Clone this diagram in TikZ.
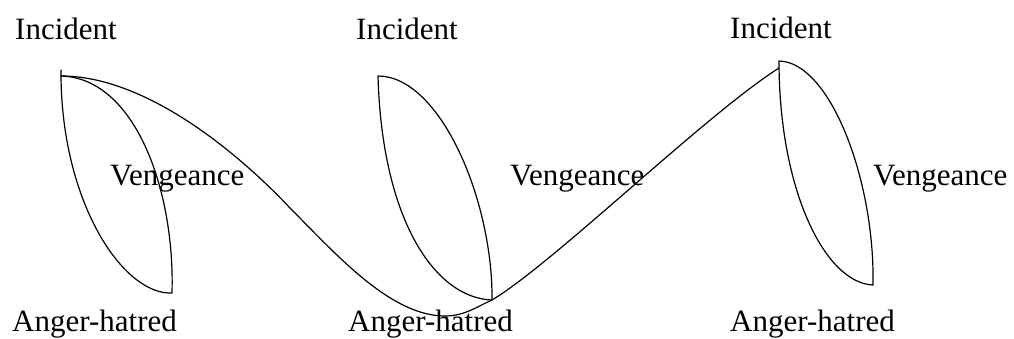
\documentclass[tikz,border=0pt]{standalone}
\usepackage{fontspec}
\setmainfont{Liberation Serif}
\begin{document}
\begin{tikzpicture}[x=1pt,y=-1pt,
  lbl/.style={anchor=base west,inner sep=0pt,font=\fontsize{31}{36}\selectfont},
  curve/.style={line width=1.2pt,line join=round,line cap=round}]
\useasboundingbox (0,0) rectangle (1014,338);
% labels
\node[lbl] (inc1) at (15,39) {Incident};
\node[lbl] (inc2) at (356,39) {Incident};
\node[lbl] (inc3) at (730,38) {Incident};
\node[lbl] (ven1) at (110,185) {Vengeance};
\node[lbl] (ven2) at (510,185) {Vengeance};
\node[lbl] (ven3) at (873,185) {Vengeance};
\node[lbl] (ang1) at (12,331) {Anger-hatred};
\node[lbl] (ang2) at (348,331) {Anger-hatred};
\node[lbl] (ang3) at (730,331) {Anger-hatred};
% key points
\coordinate (T1a) at (61,70);
\coordinate (T1) at (61,76);
\coordinate (B1) at (172,293);
\coordinate (T2) at (378,76);
\coordinate (B2) at (492,300);
\coordinate (T3) at (779,61);
\coordinate (B3) at (873,285);
\coordinate (W3) at (779,68);
\coordinate (I1) at (290,208);
\coordinate (M1) at (445,316);
% lens 1
\draw[curve] (T1a) -- (T1) .. controls (62,200) and (120,290) .. (168,293) -- (B1)
  .. controls (175,190) and (135,78) .. (T1);
% lens 2
\draw[curve] (T2) .. controls (382,220) and (435,298) .. (B2)
  .. controls (493,200) and (440,76) .. (T2);
% lens 3
\draw[curve] (T3) .. controls (779,190) and (825,283) .. (B3)
  .. controls (875,180) and (830,62) .. (T3);
% wave
\draw[curve] (T1) .. controls (150,76) and (245,160) .. (I1)
  .. controls (335,253) and (390,316) .. (M1)
  .. controls (465,316) and (478,306) .. (B2)
  .. controls (555,262) and (705,115) .. (W3);
\end{tikzpicture}
\end{document}
